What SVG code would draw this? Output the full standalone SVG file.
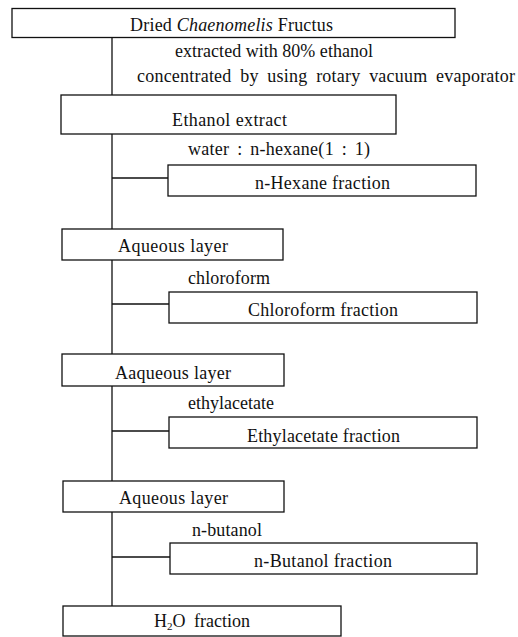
<svg xmlns="http://www.w3.org/2000/svg" width="518" height="637" viewBox="0 0 518 637">
<style>
.box{fill:#fff;stroke:#111;stroke-width:1.3}
.ln{fill:none;stroke:#111;stroke-width:1.3}
text{font-family:"Liberation Serif","Times New Roman",serif;font-size:18px;fill:#111}
</style>
<rect width="518" height="637" fill="#fff"/>
<g id="connectors">
<path class="ln" d="M112 37.5V95M112 134V229M112 260V354M112 386V481M112 512V606"/>
<path class="ln" d="M112 178H168M112 304H169M112 431H169M112 557H170"/>
</g>
<g id="labels">
<text x="175" y="57" textLength="198" lengthAdjust="spacing">extracted with 80% ethanol</text>
<text x="137" y="82" textLength="378" lengthAdjust="spacing" word-spacing="4">concentrated by using rotary vacuum evaporator</text>
<text x="188" y="155" textLength="182" lengthAdjust="spacing" word-spacing="3">water : n-hexane(1 : 1)</text>
<text x="188" y="284" textLength="82" lengthAdjust="spacing">chloroform</text>
<text x="188" y="409" textLength="86" lengthAdjust="spacing">ethylacetate</text>
<text x="192" y="536" textLength="70" lengthAdjust="spacing">n-butanol</text>
</g>
<g id="n1"><rect class="box" x="12" y="8.5" width="443" height="29"/>
<text x="130" y="30.5" textLength="203" lengthAdjust="spacing">Dried <tspan font-style="italic">Chaenomelis</tspan> Fructus</text></g>
<g id="n2"><rect class="box" x="61" y="95" width="335" height="39"/>
<text x="172" y="126" textLength="115" lengthAdjust="spacing">Ethanol extract</text></g>
<g id="n3"><rect class="box" x="168" y="165" width="308" height="31"/>
<text x="255" y="189" textLength="135" lengthAdjust="spacing">n-Hexane fraction</text></g>
<g id="n4"><rect class="box" x="62" y="229" width="221" height="31"/>
<text x="118" y="252" textLength="110" lengthAdjust="spacing">Aqueous layer</text></g>
<g id="n5"><rect class="box" x="169" y="292" width="308" height="31"/>
<text x="248" y="316" textLength="150" lengthAdjust="spacing">Chloroform fraction</text></g>
<g id="n6"><rect class="box" x="62" y="354" width="222" height="32"/>
<text x="115" y="379" textLength="116" lengthAdjust="spacing">Aaqueous layer</text></g>
<g id="n7"><rect class="box" x="169" y="417" width="308" height="31"/>
<text x="247" y="442" textLength="153" lengthAdjust="spacing">Ethylacetate fraction</text></g>
<g id="n8"><rect class="box" x="63" y="481" width="221" height="31"/>
<text x="119" y="504" textLength="109" lengthAdjust="spacing">Aqueous layer</text></g>
<g id="n9"><rect class="box" x="170" y="543" width="307" height="31"/>
<text x="254" y="567" textLength="138" lengthAdjust="spacing">n-Butanol fraction</text></g>
<g id="n10"><rect class="box" x="63" y="606" width="278" height="30"/>
<text x="154" y="627">H<tspan font-size="11" dy="3">2</tspan><tspan dy="-3" word-spacing="4">O fraction</tspan></text></g>
</svg>
